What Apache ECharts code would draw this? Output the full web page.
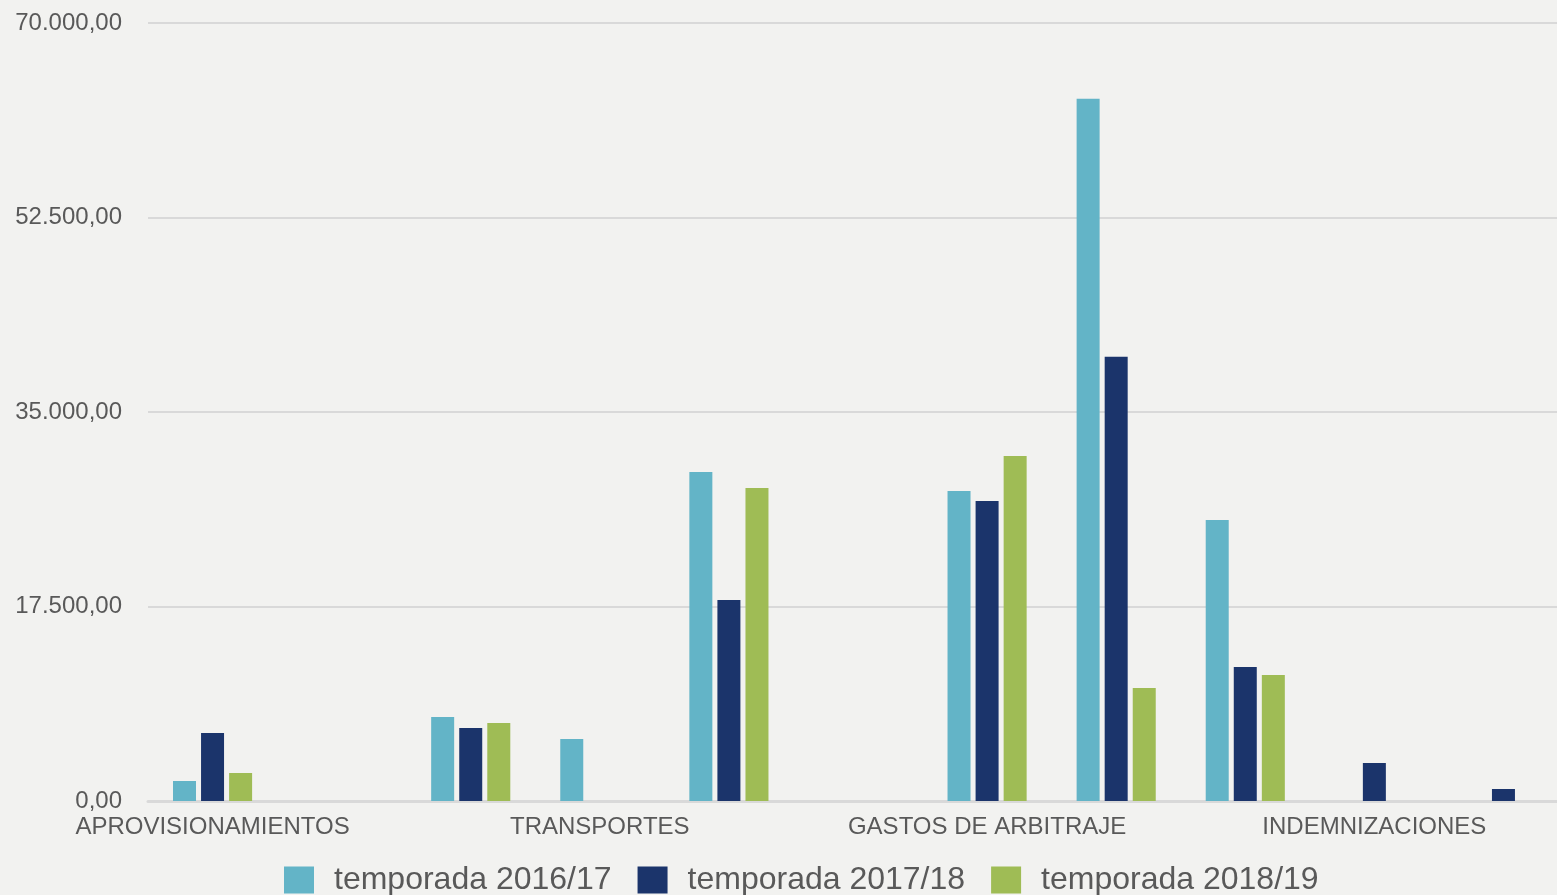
<!DOCTYPE html>
<html>
<head>
<meta charset="utf-8">
<style>
  html, body { margin: 0; padding: 0; background: #f2f2f0; }
  #chart { width: 1557px; height: 895px; }
</style>
<script src="https://cdn.jsdelivr.net/npm/echarts@6/dist/echarts.min.js"></script>
</head>
<body>
<div id="chart"></div>
<script>
// categorias (solo se ven una de cada tres)
var categorias = ['APROVISIONAMIENTOS', 'GASTOS DE PERSONAL', 'ARRENDAMIENTOS', 'TRANSPORTES',
    'PRIMAS DE SEGUROS', 'SERVICIOS BANCARIOS', 'GASTOS DE ARBITRAJE', 'SUMINISTROS',
    'OTROS SERVICIOS', 'INDEMNIZACIONES', 'OTROS GASTOS'];
var temporadas = ['temporada 2016/17', 'temporada 2017/18', 'temporada 2018/19'];
var colores = ['#63b4c7', '#1b346b', '#9fbc55'];

var t1617 = [1800, 0, 7560, 5580, 29610, 0, 27900, 63180, 25290, 0, 0];
var t1718 = [6120, 0, 6570, 0, 18090, 0, 27000, 39960, 12060, 3420, 1080];
var t1819 = [2520, 0, 7020, 0, 28170, 0, 31050, 10170, 11340, 0, 0];
var valores = [t1617, t1718, t1819];

var yMax = 70000;
var yPaso = 17500;

function fmt(v) {
    var s = Math.round(v).toString().replace(/\B(?=(\d{3})+(?!\d))/g, '.');
    return s + ',00';
}

var myChart = echarts.init(document.getElementById('chart'));
window.addEventListener('resize', function () { myChart.resize(); }, false);

var series = temporadas.map(function (nombre, i) {
    return {
        name: nombre,
        type: 'bar',
        barWidth: 23,
        barGap: '22%',
        itemStyle: { color: colores[i] },
        data: valores[i]
    };
});

var option = {
    backgroundColor: '#f2f2f0',
    animation: false,
    textStyle: { fontFamily: 'Liberation Sans, Arial, sans-serif' },
    grid: { left: 148, width: 1420, top: 23, bottom: 94, containLabel: false, outerBoundsMode: 'none' },
    legend: {
        left: 279,
        top: 859,
        itemWidth: 30,
        itemHeight: 27,
        itemGap: 26,
        icon: 'rect',
        textStyle: { fontSize: 32, color: '#595959', padding: [0, 0, 0, 15] },
        data: temporadas
    },
    xAxis: {
        type: 'category',
        data: categorias,
        axisTick: { show: false },
        axisLine: { lineStyle: { color: '#d9d9d9', width: 3 } },
        axisLabel: { interval: 2, color: '#595959', fontSize: 24, margin: 14 }
    },
    yAxis: {
        type: 'value',
        min: 0,
        max: yMax,
        interval: yPaso,
        axisLine: { show: false },
        axisTick: { show: false },
        splitLine: { lineStyle: { color: '#d9d9d9', width: 2 } },
        axisLabel: { color: '#595959', fontSize: 24, margin: 26, formatter: fmt }
    },
    series: series
};

myChart.setOption(option);
</script>
</body>
</html>
